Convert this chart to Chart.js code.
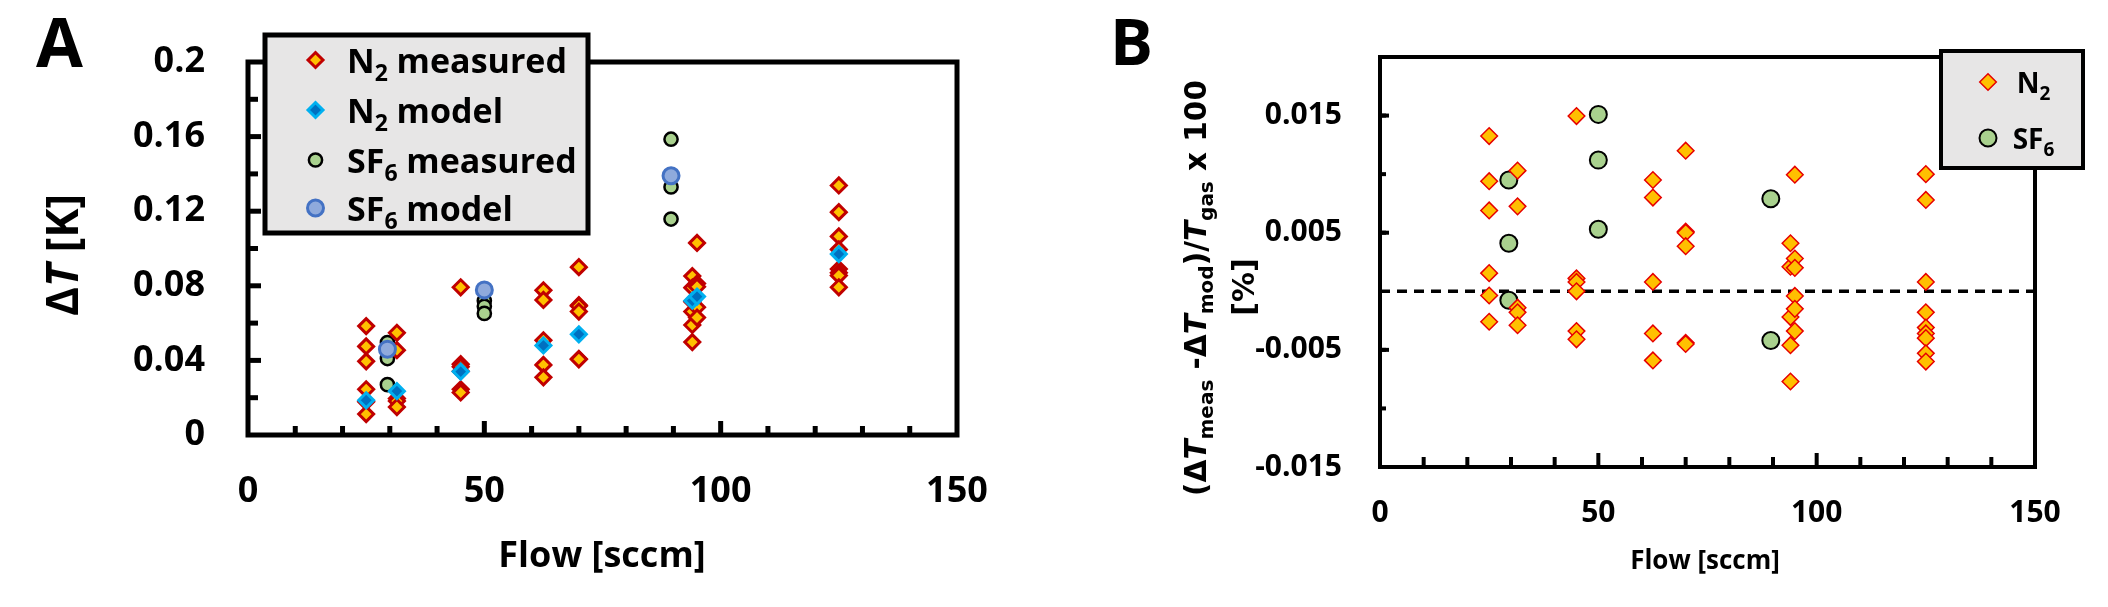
<!DOCTYPE html>
<html>
<head>
<meta charset="utf-8">
<script src="https://cdn.jsdelivr.net/npm/chart.js@4/dist/chart.umd.min.js"></script>
<style>
  body { margin: 0; background: #fff; }
  canvas { position: absolute; top: 0; }
  #chartA { left: 0; }
  #chartB { left: 1054px; }
</style>
</head>
<body>
<canvas id="chartA" width="1054" height="607"></canvas>
<canvas id="chartB" width="1054" height="607"></canvas>
<script>
// Panel A: temperature difference vs flow
const n2MeasFlow = [25, 25, 25, 25, 25, 25,
  31.5, 31.5, 31.5, 31.5, 31.5,
  45, 45, 45, 45, 45, 45,
  62.5, 62.5, 62.5, 62.5, 62.5,
  70, 70, 70, 70, 70, 70,
  94, 94, 94, 94, 94, 94,
  95, 95, 95, 95, 95,
  125, 125, 125, 125, 125, 125, 125, 125];
const n2MeasDT = [0.0584, 0.0475, 0.0395, 0.0245, 0.0178, 0.0112,
  0.0548, 0.0455, 0.0196, 0.0182, 0.0150,
  0.0792, 0.0380, 0.0366, 0.0342, 0.0245, 0.0228,
  0.0776, 0.0724, 0.0508, 0.0376, 0.0309,
  0.0900, 0.0696, 0.0692, 0.0662, 0.0408, 0.0406,
  0.0852, 0.0790, 0.0662, 0.0590, 0.0498, 0.0715,
  0.1030, 0.0812, 0.0795, 0.0685, 0.0630,
  0.1338, 0.1195, 0.1065, 0.0995, 0.0890, 0.0870, 0.0855, 0.0792];
const n2ModelFlow = [25, 31.5, 45, 62.5, 70, 94, 95, 125];
const n2ModelDT = [0.0186, 0.0235, 0.0340, 0.0480, 0.0540, 0.0720, 0.0742, 0.0970];
const sf6MeasFlow = [29.5, 29.5, 29.5, 50, 50, 50, 89.5, 89.5, 89.5];
const sf6MeasDT = [0.0496, 0.0410, 0.0270, 0.0720, 0.0690, 0.0652, 0.1586, 0.1330, 0.1158];
const sf6ModelFlow = [29.5, 50, 89.5];
const sf6ModelDT = [0.0460, 0.0778, 0.1390];

// Panel B: relative deviation measured - model
const n2DevFlow = [25, 25, 25, 25, 25, 25,
  31.5, 31.5, 31.5, 31.5, 31.5,
  45, 45, 45, 45, 45, 45,
  62.5, 62.5, 62.5, 62.5, 62.5,
  70, 70, 70, 70, 70, 70,
  94, 94, 94, 94, 94,
  95, 95, 95, 95, 95, 95,
  125, 125, 125, 125, 125, 125, 125, 125, 125];
const n2Dev = [0.01325, 0.0094, 0.0069, 0.00155, -0.00036, -0.0026,
  0.0103, 0.00725, -0.0014, -0.0018, -0.0029,
  0.01496, 0.0011, 0.0008, 0.0000, -0.0034, -0.0041,
  0.0095, 0.0080, 0.0008, -0.0036, -0.0059,
  0.0120, 0.0051, 0.0050, 0.00385, -0.0044, -0.0045,
  0.0041, 0.0021, -0.0022, -0.0046, -0.0077,
  0.00995, 0.0028, 0.0020, -0.0004, -0.0015, -0.0034,
  0.0100, 0.0078, 0.0008, -0.0018, -0.0031, -0.0036, -0.0040, -0.0053, -0.0060];
const sf6DevFlow = [29.5, 29.5, 29.5, 50, 50, 50, 89.5, 89.5];
const sf6Dev = [0.0095, 0.0041, -0.00076, 0.0151, 0.0112, 0.0053, 0.0079, -0.0042];
const zeroFlow = [0, 150];
const zeroDev = [0, 0];

// tick labels
const flowTicks = [0, 50, 100, 150];
const dtTicks = [0, 0.04, 0.08, 0.12, 0.16, 0.2];
const devTicks = [-0.015, -0.005, 0.005, 0.015];

const SANS = '"Open Sans", "Liberation Sans", sans-serif';
const WIDE = '"DejaVu Sans", Verdana, sans-serif';

function pts(xs, ys) {
  return xs.map((x, i) => ({ x: x, y: ys[i] }));
}

// text with subscripts / italics, parts = [[text, kind], ...]
function fontFor(kind, size, family) {
  if (kind === 'sub') return 'bold ' + Math.round(size * 0.68) + 'px ' + family;
  if (kind === 'it') return 'italic bold ' + size + 'px ' + family;
  return 'bold ' + size + 'px ' + family;
}
function drawRich(ctx, parts, x, y, size, family, align) {
  let w = 0;
  parts.forEach(p => { ctx.font = fontFor(p[1], size, family); w += ctx.measureText(p[0]).width; });
  let cx = align === 'center' ? x - w / 2 : x;
  ctx.textAlign = 'left';
  ctx.textBaseline = 'alphabetic';
  parts.forEach(p => {
    ctx.font = fontFor(p[1], size, family);
    const dy = p[1] === 'sub' ? size * 0.24 : 0;
    ctx.fillText(p[0], cx, y + dy);
    cx += ctx.measureText(p[0]).width;
  });
}

function marker(ctx, ds, x, y) {
  ctx.save();
  ctx.fillStyle = ds.pointBackgroundColor;
  ctx.strokeStyle = ds.pointBorderColor;
  ctx.lineWidth = ds.pointBorderWidth;
  Chart.helpers.drawPoint(ctx, { pointStyle: ds.pointStyle, radius: ds.pointRadius, rotation: 0, borderWidth: ds.pointBorderWidth }, x, y);
  ctx.restore();
}

// frame, inward tick marks, titles and legend
function decor(cfg) {
  return {
    id: 'decor',
    beforeDatasetsDraw(chart) {
      const ctx = chart.ctx, a = chart.chartArea;
      const sx = chart.scales.x, sy = chart.scales.y;
      ctx.save();
      ctx.strokeStyle = '#000';
      ctx.lineWidth = cfg.frame;
      ctx.lineCap = 'butt';
      cfg.xMarks.forEach(m => {
        const px = sx.getPixelForValue(m[0]);
        ctx.beginPath(); ctx.moveTo(px, a.bottom); ctx.lineTo(px, a.bottom - m[1]); ctx.stroke();
      });
      cfg.yMarks.forEach(m => {
        const py = sy.getPixelForValue(m[0]);
        ctx.beginPath(); ctx.moveTo(a.left, py); ctx.lineTo(a.left + m[1], py); ctx.stroke();
      });
      ctx.lineJoin = 'miter';
      ctx.strokeRect(a.left, a.top, a.right - a.left, a.bottom - a.top);
      ctx.restore();
    },
    afterDraw(chart) {
      const ctx = chart.ctx;
      ctx.save();
      ctx.fillStyle = '#000';
      ctx.font = 'bold ' + cfg.letter.size + 'px ' + SANS;
      ctx.textAlign = 'left';
      ctx.fillText(cfg.letter.text, cfg.letter.x, cfg.letter.y);

      cfg.yTitle.forEach(t => {
        ctx.save();
        ctx.translate(t.x, t.y);
        ctx.rotate(-Math.PI / 2);
        drawRich(ctx, t.parts, 0, 0, t.size, t.family, 'center');
        ctx.restore();
      });
      drawRich(ctx, [['Flow [sccm]', '']], cfg.xTitle.x, cfg.xTitle.y, cfg.xTitle.size, SANS, 'center');

      const L = cfg.legend;
      ctx.fillStyle = '#e7e6e6';
      ctx.fillRect(L.x, L.y, L.w, L.h);
      ctx.strokeStyle = '#000';
      ctx.lineWidth = L.border;
      ctx.strokeRect(L.x, L.y, L.w, L.h);
      L.items.forEach(it => {
        marker(ctx, chart.data.datasets[it.ds], L.mx, it.y);
        ctx.fillStyle = '#000';
        drawRich(ctx, it.parts, L.tx, it.y + L.dy, L.size, SANS, L.align);
      });
      ctx.restore();
    }
  };
}

function xMarks(big) {
  const m = [];
  for (let v = 10; v < 150; v += 10) m.push([v, v % 50 === 0 ? big[1] : big[0]]);
  return m;
}

const tickFont = size => ({ family: SANS, weight: 'bold', size: size });

// ---------- Panel A ----------
const yMarksA = [];
for (let k = 1; k < 10; k++) yMarksA.push([k * 0.02, k % 2 === 0 ? 13 : 10]);

new Chart(document.getElementById('chartA'), {
  type: 'scatter',
  data: {
    datasets: [
      { label: 'N2 model', data: pts(n2ModelFlow, n2ModelDT), pointStyle: 'rectRot', pointRadius: 7.5,
        pointBackgroundColor: '#0070c0', pointBorderColor: '#00b0f0', pointBorderWidth: 3, order: 1 },
      { label: 'SF6 model', data: pts(sf6ModelFlow, sf6ModelDT), pointStyle: 'circle', pointRadius: 8,
        pointBackgroundColor: '#8faadc', pointBorderColor: '#4472c4', pointBorderWidth: 3, order: 1 },
      { label: 'N2 measured', data: pts(n2MeasFlow, n2MeasDT), pointStyle: 'rectRot', pointRadius: 7.5,
        pointBackgroundColor: '#ffc000', pointBorderColor: '#c00000', pointBorderWidth: 3, order: 2 },
      { label: 'SF6 measured', data: pts(sf6MeasFlow, sf6MeasDT), pointStyle: 'circle', pointRadius: 6.6,
        pointBackgroundColor: '#a9d18e', pointBorderColor: '#000000', pointBorderWidth: 2.5, order: 2 }
    ]
  },
  options: {
    responsive: false,
    animation: false,
    events: [],
    layout: { padding: { left: 0, top: 62, right: 97, bottom: 0 } },
    plugins: { legend: { display: false }, tooltip: { enabled: false } },
    scales: {
      x: {
        type: 'linear', min: 0, max: 150,
        grid: { display: false, drawTicks: false }, border: { display: false },
        afterBuildTicks: s => { s.ticks = flowTicks.map(v => ({ value: v })); },
        ticks: { padding: 35, maxRotation: 0, color: '#000', font: tickFont(36) },
        afterFit: s => { s.height = 172; s.paddingLeft = 0; s.paddingRight = 0; }
      },
      y: {
        type: 'linear', min: 0, max: 0.2,
        grid: { display: false, drawTicks: false }, border: { display: false },
        afterBuildTicks: s => { s.ticks = dtTicks.map(v => ({ value: v })); },
        ticks: { padding: 43, color: '#000', font: tickFont(36), callback: v => String(Math.round(v * 100) / 100) },
        afterFit: s => { s.width = 248; s.paddingTop = 0; s.paddingBottom = 0; }
      }
    }
  },
  plugins: [decor({
    frame: 5,
    xMarks: xMarks([9, 14]),
    yMarks: yMarksA,
    letter: { text: 'A', x: 36, y: 67, size: 68 },
    yTitle: [{ x: 78, y: 255, size: 44, family: SANS, parts: [['Δ', ''], ['T', 'it'], [' [K]', '']] }],
    xTitle: { x: 602, y: 567, size: 36 },
    legend: {
      x: 265, y: 35, w: 323, h: 198, border: 5, mx: 315.5, tx: 347, dy: 13, size: 34, align: 'left',
      items: [
        { ds: 2, y: 60, parts: [['N', ''], ['2', 'sub'], [' measured', '']] },
        { ds: 0, y: 110, parts: [['N', ''], ['2', 'sub'], [' model', '']] },
        { ds: 3, y: 160, parts: [['SF', ''], ['6', 'sub'], [' measured', '']] },
        { ds: 1, y: 208, parts: [['SF', ''], ['6', 'sub'], [' model', '']] }
      ]
    }
  })]
});

// ---------- Panel B ----------
const yMarksB = [];
for (let k = -2; k <= 3; k++) {
  const v = k * 0.005 + 0.0;
  if (k !== 0) yMarksB.push([v, 6]);
}
devTicks.forEach(v => yMarksB.push([v, 9]));

new Chart(document.getElementById('chartB'), {
  type: 'scatter',
  data: {
    datasets: [
      { label: 'N2', data: pts(n2DevFlow, n2Dev), pointStyle: 'rectRot', pointRadius: 8.3,
        pointBackgroundColor: '#ffc000', pointBorderColor: '#e60000', pointBorderWidth: 1.5, order: 1 },
      { label: 'SF6', data: pts(sf6DevFlow, sf6Dev), pointStyle: 'circle', pointRadius: 8.5,
        pointBackgroundColor: '#a9d18e', pointBorderColor: '#000000', pointBorderWidth: 2, order: 1 },
      { label: 'zero', data: pts(zeroFlow, zeroDev), showLine: true, pointRadius: 0,
        borderColor: '#000', borderWidth: 3.5, borderDash: [10, 7], order: 3 }
    ]
  },
  options: {
    responsive: false,
    animation: false,
    events: [],
    layout: { padding: { left: 0, top: 57, right: 73, bottom: 0 } },
    plugins: { legend: { display: false }, tooltip: { enabled: false } },
    scales: {
      x: {
        type: 'linear', min: 0, max: 150,
        grid: { display: false, drawTicks: false }, border: { display: false },
        afterBuildTicks: s => { s.ticks = flowTicks.map(v => ({ value: v })); },
        ticks: { padding: 28, maxRotation: 0, color: '#000', font: tickFont(30) },
        afterFit: s => { s.height = 140; s.paddingLeft = 0; s.paddingRight = 0; }
      },
      y: {
        type: 'linear', min: -0.015, max: 0.02,
        grid: { display: false, drawTicks: false }, border: { display: false },
        afterBuildTicks: s => { s.ticks = devTicks.map(v => ({ value: v })); },
        ticks: { padding: 38, color: '#000', font: tickFont(30), callback: v => v.toFixed(3) },
        afterFit: s => { s.width = 326; s.paddingTop = 0; s.paddingBottom = 0; }
      }
    }
  },
  plugins: [decor({
    frame: 4,
    xMarks: xMarks([10, 14]),
    yMarks: yMarksB,
    letter: { text: 'B', x: 56, y: 65, size: 64 },
    yTitle: [
      { x: 152, y: 288, size: 29.5, family: WIDE, parts: [['(Δ', ''], ['T', 'it'], ['meas', 'sub'], [' -Δ', ''], ['T', 'it'], ['mod', 'sub'], [')/', ''], ['T', 'it'], ['gas', 'sub'], [' x 100', '']] },
      { x: 200, y: 287, size: 30, family: WIDE, parts: [['[%]', '']] }
    ],
    xTitle: { x: 651, y: 569, size: 26 },
    legend: {
      x: 887, y: 51, w: 142, h: 117, border: 4, mx: 934, tx: 979.5, dy: 11, size: 28, align: 'center',
      items: [
        { ds: 0, y: 82, parts: [['N', ''], ['2', 'sub']] },
        { ds: 1, y: 138, parts: [['SF', ''], ['6', 'sub']] }
      ]
    }
  })]
});
</script>
</body>
</html>
